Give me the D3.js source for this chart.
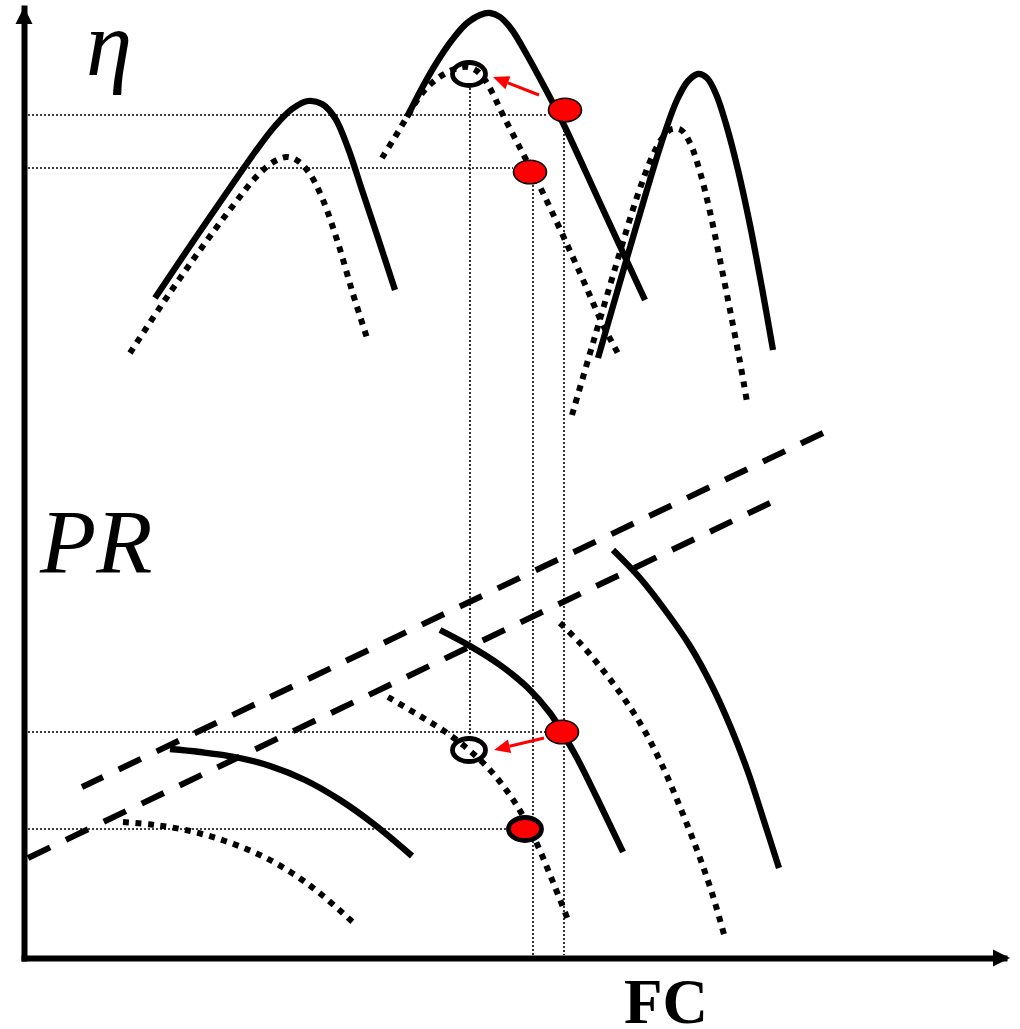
<!DOCTYPE html>
<html>
<head>
<meta charset="utf-8">
<script src="https://cdn.jsdelivr.net/npm/d3@7"></script>
<style>
  html, body { margin: 0; padding: 0; background: #fff; }
  svg { display: block; }
</style>
</head>
<body>
<svg id="chart" width="1020" height="1029"></svg>
<script>
// ---------- DATA (FC on x, eta / PR on y, arbitrary schematic units) ----------
const axisTitles = { x: "FC", yTop: "η", yBottom: "PR" };

// efficiency (eta) characteristics: [FC, eta]
const etaSolidLow = [[13.1,66.0],[16.6,71.2],[20.1,76.3],[23.1,80.6],[25.1,83.2],[26.8,84.9],[28.4,85.7],[29.8,85.4],[31.1,84.0],[32.4,81.0],[33.8,76.8],[35.4,72.0],[37.1,66.8]];
const etaDottedLow = [[10.6,60.5],[14.1,65.8],[17.6,70.8],[20.8,75.1],[23.4,78.3],[25.1,79.7],[26.3,80.1],[27.4,79.7],[28.6,78.4],[29.9,75.8],[31.4,71.5],[32.9,66.4],[34.3,62.0]];
const etaSolidMid = [[38.3,84.1],[39.8,87.0],[41.3,89.6],[42.8,91.8],[44.2,93.4],[45.6,94.3],[46.6,94.5],[47.6,94.1],[48.8,92.8],[50.3,90.3],[52.1,87.0],[53.9,83.5],[57.6,75.5],[62.1,65.8]];
const etaDottedMid = [[35.8,80.0],[37.1,82.1],[38.3,84.1],[39.6,86.2],[40.9,87.6],[42.2,88.5],[43.4,89.0],[44.4,89.1],[45.3,88.7],[46.1,87.8],[46.9,86.4],[47.8,84.5],[49.6,81.0],[51.9,76.5],[55.6,68.5],[57.9,63.3],[59.6,60.1]];
const etaSolidHigh = [[57.4,60.0],[59.8,68.3],[62.2,76.5],[64.0,82.3],[65.3,85.8],[66.4,87.7],[67.4,88.4],[68.3,88.0],[69.2,86.4],[70.2,83.4],[71.4,78.8],[72.6,73.3],[73.8,67.0],[74.9,60.8]];
const etaDottedHigh = [[54.8,54.3],[56.9,61.5],[59.3,69.6],[61.3,76.1],[62.8,80.1],[63.9,82.1],[64.8,82.9],[65.7,82.8],[66.6,81.5],[67.6,78.6],[68.6,74.6],[69.6,69.8],[70.6,64.8],[71.6,59.6],[72.3,55.6]];

// pressure-ratio (PR) characteristics: [FC, PR]
const prSolidLow = [[14.6,20.9],[17.6,20.6],[21.1,20.1],[24.6,19.2],[28.1,17.8],[31.6,15.8],[35.1,13.3],[38.8,10.2]];
const prDottedLow = [[9.9,13.6],[13.1,13.3],[16.6,12.7],[20.1,11.7],[23.6,10.3],[26.8,8.5],[29.8,6.3],[33.3,3.2]];
const prSolidMid = [[41.6,32.8],[44.6,31.2],[47.6,29.3],[50.3,27.1],[52.6,24.5],[53.8,22.6],[55.3,20.0],[57.3,16.0],[59.9,10.6]];
const prDottedMid = [[36.4,26.1],[39.6,24.2],[42.3,22.5],[44.5,20.8],[46.6,18.8],[48.3,16.7],[49.5,14.9],[50.6,12.9],[51.7,10.5],[52.9,7.6],[54.4,3.8]];
const prDottedHigh = [[53.6,33.5],[55.6,31.5],[57.8,28.9],[59.9,26.1],[61.9,23.0],[63.8,19.3],[65.6,15.1],[67.3,10.8],[68.8,6.5],[70.1,2.0]];
const prSolidHigh = [[58.9,40.8],[61.6,38.0],[64.1,34.8],[66.6,31.2],[68.8,27.2],[70.7,23.0],[72.4,18.6],[73.9,14.0],[75.5,9.0]];

// surge (dashed) lines: [[FC,PR],[FC,PR]]
const surgeLines = [
  [[5.8,17.1],[79.9,52.5]],
  [[0.4,10.0],[74.6,45.5]]
];

// operating points
const redPoints = [[54.1,84.8],[50.6,78.6],[53.8,22.6]];
const redPointBold = [[50.1,12.9]];
const openPoints = [[44.5,88.4],[44.5,20.8]];
const shiftArrows = [
  [[51.5,86.3],[46.9,88.1]],
  [[52.0,22.0],[47.0,20.8]]
];

// thin guide lines
const guideH = [[84.3,52.4],[79.0,48.9],[22.6,52.2],[12.9,48.5]];   // [level, FC end]
const guideV = [[44.6,87.0,22.0],[50.9,77.3,0.3],[54.0,83.6,0.3]];  // [FC, top, bottom]

// ---------- CHART ----------
const svg = d3.select("#chart");
const x = d3.scaleLinear().domain([0, 98]).range([24, 1004]);
const y = d3.scaleLinear().domain([0, 95]).range([958, 8]);

const line = d3.line().x(d => x(d[0])).y(d => y(d[1])).curve(d3.curveCatmullRom.alpha(0.5));
const straight = d3.line().x(d => x(d[0])).y(d => y(d[1]));

// guide lines
const gGuide = svg.append("g").attr("stroke", "#000").attr("stroke-width", 1.6).attr("stroke-dasharray", "2,2");
guideH.forEach(([lv, fe]) => {
  gGuide.append("line").attr("x1", x(0.4)).attr("x2", x(fe)).attr("y1", y(lv)).attr("y2", y(lv));
});
guideV.forEach(([fc, t, b]) => {
  gGuide.append("line").attr("x1", x(fc)).attr("x2", x(fc)).attr("y1", y(t)).attr("y2", y(b));
});

// surge lines (end on a full dash)
const dashLen = 24.5, gapLen = 17.5, period = dashLen + gapLen;
svg.append("g").selectAll("path").data(surgeLines).join("path")
  .attr("d", straight).attr("fill", "none").attr("stroke", "#000")
  .attr("stroke-width", 6).attr("stroke-dasharray", `${dashLen},${gapLen}`)
  .each(function() {
    const L = this.getTotalLength();
    const off = ((dashLen - L) % period + period) % period;
    d3.select(this).attr("stroke-dashoffset", off);
  });

// curves
const solids = [etaSolidLow, etaSolidMid, etaSolidHigh, prSolidLow, prSolidMid, prSolidHigh];
const dotteds = [etaDottedLow, etaDottedMid, etaDottedHigh, prDottedLow, prDottedMid, prDottedHigh];
svg.append("g").selectAll("path").data(dotteds).join("path")
  .attr("d", line).attr("fill", "none").attr("stroke", "#000")
  .attr("stroke-width", 6).attr("stroke-dasharray", "6,6.5");
svg.append("g").selectAll("path").data(solids).join("path")
  .attr("d", line).attr("fill", "none").attr("stroke", "#000")
  .attr("stroke-width", 6.3);

// axes
const xAxisG = svg.append("g").attr("transform", `translate(0,${y(0)})`)
  .call(d3.axisBottom(x).tickValues([]).tickSizeOuter(0));
const yAxisG = svg.append("g").attr("transform", `translate(${x(0)},0)`)
  .call(d3.axisLeft(y).tickValues([]).tickSizeOuter(0));
[xAxisG, yAxisG].forEach(g => g.select(".domain").attr("stroke", "#000").attr("stroke-width", 6).attr("stroke-linecap", "square"));
const xe = x.range()[1], y0 = y(0), ye = y.range()[1], x0 = x(0);
svg.append("path").attr("d", `M${xe + 6},${y0}L${xe - 11},${y0 - 8.5}L${xe - 11},${y0 + 8.5}Z`).attr("fill", "#000");
svg.append("path").attr("d", `M${x0},${ye - 1}L${x0 - 8.5},${ye + 16}L${x0 + 8.5},${ye + 16}Z`).attr("fill", "#000");

// red shift arrows
const gArr = svg.append("g");
shiftArrows.forEach(([a, b]) => {
  const x1 = x(a[0]), y1 = y(a[1]), x2 = x(b[0]), y2 = y(b[1]);
  const ang = Math.atan2(y2 - y1, x2 - x1);
  const L = 16, W = 7;
  const bx = x2 - L * Math.cos(ang), by = y2 - L * Math.sin(ang);
  gArr.append("line").attr("x1", x1).attr("y1", y1).attr("x2", bx).attr("y2", by)
    .attr("stroke", "#ff0000").attr("stroke-width", 3);
  gArr.append("path")
    .attr("d", `M${x2},${y2}L${bx + W * Math.sin(ang)},${by - W * Math.cos(ang)}L${bx - W * Math.sin(ang)},${by + W * Math.cos(ang)}Z`)
    .attr("fill", "#ff0000");
});

// open circles
svg.append("g").selectAll("ellipse").data(openPoints).join("ellipse")
  .attr("cx", d => x(d[0])).attr("cy", d => y(d[1])).attr("rx", 16.5).attr("ry", 11.5)
  .attr("fill", "none").attr("stroke", "#000").attr("stroke-width", 4.8);

// red points
svg.append("g").selectAll("ellipse").data(redPoints).join("ellipse")
  .attr("cx", d => x(d[0])).attr("cy", d => y(d[1])).attr("rx", 16.5).attr("ry", 11.8)
  .attr("fill", "#ff0000").attr("stroke", "#000").attr("stroke-width", 1.6);
svg.append("g").selectAll("ellipse").data(redPointBold).join("ellipse")
  .attr("cx", d => x(d[0])).attr("cy", d => y(d[1])).attr("rx", 16.5).attr("ry", 11.5)
  .attr("fill", "#ff0000").attr("stroke", "#000").attr("stroke-width", 4.8);

// labels
svg.append("text").attr("x", x(6.2)).attr("y", y(88.3))
  .attr("font-family", "'Liberation Serif', 'Times New Roman', serif").attr("font-style", "italic")
  .attr("font-size", 93).attr("fill", "#000").text(axisTitles.yTop);
svg.append("text").attr("x", x(1.6)).attr("y", y(38.5))
  .attr("font-family", "'Liberation Serif', 'Times New Roman', serif").attr("font-style", "italic")
  .attr("font-size", 92).attr("fill", "#000").text(axisTitles.yBottom);
svg.append("text").attr("x", x(60.0)).attr("y", 1023)
  .attr("font-family", "'Liberation Serif', 'Times New Roman', serif").attr("font-weight", "bold")
  .attr("font-size", 63).attr("fill", "#000").text(axisTitles.x);
</script>
</body>
</html>
